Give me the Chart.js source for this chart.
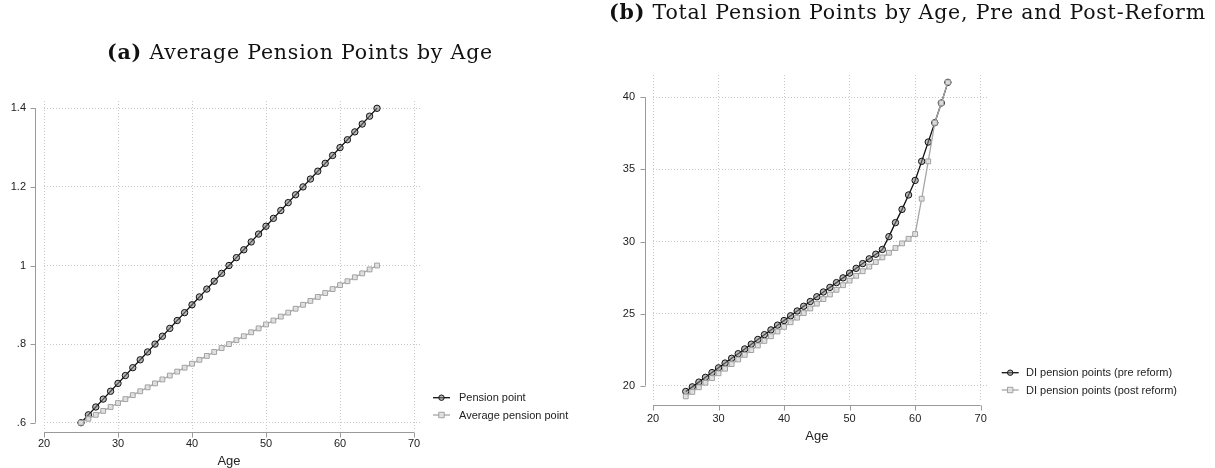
<!DOCTYPE html>
<html>
<head>
<meta charset="utf-8">
<script src="https://cdn.jsdelivr.net/npm/chart.js@4/dist/chart.umd.min.js"></script>
<style>
  html, body { margin: 0; padding: 0; background: #fff; }
  body { width: 1215px; height: 468px; position: relative; overflow: hidden; }
  .panel { position: absolute; top: 0; }
  .ttl { position: absolute; text-align: center; font-family: "DejaVu Serif", "Liberation Serif", serif; font-size: 20.5px; letter-spacing: 0.8px; line-height: 24px; color: #111; white-space: nowrap; }
  .ttl b { font-weight: bold; }
</style>
</head>
<body>
<div class="panel" style="left:0;width:600px;height:468px;"><canvas id="cA" width="600" height="468"></canvas></div>
<div class="panel" style="left:600px;width:615px;height:468px;"><canvas id="cB" width="615" height="468"></canvas></div>
<div class="ttl" id="tA" style="left:0;width:600px;top:40px;"><b>(a)</b> Average Pension Points by Age</div>
<div class="ttl" id="tB" style="left:600px;width:615px;top:0px;"><b>(b)</b> Total Pension Points by Age, Pre and Post-Reform</div>
<script>
// ---------- DATA ----------
const ages = [25,26,27,28,29,30,31,32,33,34,35,36,37,38,39,40,41,42,43,44,45,46,47,48,49,50,51,52,53,54,55,56,57,58,59,60,61,62,63,64,65];

const pensionPoint = [0.60,0.62,0.64,0.66,0.68,0.70,0.72,0.74,0.76,0.78,0.80,0.82,0.84,0.86,0.88,0.90,0.92,0.94,0.96,0.98,1.00,1.02,1.04,1.06,1.08,1.10,1.12,1.14,1.16,1.18,1.20,1.22,1.24,1.26,1.28,1.30,1.32,1.34,1.36,1.38,1.40];
const avgPensionPoint = [0.60,0.61,0.62,0.63,0.64,0.65,0.66,0.67,0.68,0.69,0.70,0.71,0.72,0.73,0.74,0.75,0.76,0.77,0.78,0.79,0.80,0.81,0.82,0.83,0.84,0.85,0.86,0.87,0.88,0.89,0.90,0.91,0.92,0.93,0.94,0.95,0.96,0.97,0.98,0.99,1.00];

const diPreReform = [19.60,19.92,20.25,20.58,20.91,21.24,21.57,21.90,22.22,22.55,22.88,23.21,23.54,23.87,24.20,24.52,24.85,25.18,25.51,25.84,26.17,26.50,26.82,27.15,27.48,27.81,28.14,28.47,28.80,29.12,29.45,30.34,31.31,32.23,33.23,34.24,35.56,36.90,38.24,39.61,41.04];
const diPostReform = [19.26,19.57,19.89,20.21,20.53,20.86,21.18,21.50,21.82,22.14,22.47,22.79,23.11,23.43,23.76,24.08,24.40,24.72,25.04,25.36,25.69,26.01,26.33,26.65,26.97,27.29,27.62,27.94,28.26,28.58,28.90,29.22,29.55,29.87,30.19,30.52,32.97,35.56,38.24,39.61,41.04];

const xTicks = [20,30,40,50,60,70];
const xTickLabels = ['20','30','40','50','60','70'];
const yTicksA = [0.6,0.8,1.0,1.2,1.4];
const yTickLabelsA = ['.6','.8','1','1.2','1.4'];
const yTicksB = [20,25,30,35,40];
const yTickLabelsB = ['20','25','30','35','40'];

const labelsA = ['Pension point','Average pension point'];
const labelsB = ['DI pension points (pre reform)','DI pension points (post reform)'];
const xTitle = 'Age';

// ---------- STYLE ----------
const FONT = '"Liberation Sans", Arial, sans-serif';
const AXIS_COL = '#9a9a9a';
const GRID_COL = '#c8c8c8';
const TXT_COL = '#222';
const BLACK_SER = { line: '#111', marker: '#111', fillc: 'rgba(130,130,130,0.55)', style: 'circle', r: 3.2, order: 1 };
const GRAY_SER  = { line: '#a6a6a6', marker: '#a0a0a0', fillc: 'rgba(225,225,225,0.9)', style: 'rect', r: 3.4, order: 0 };

function pts(xs, ys) { return xs.map((x, i) => ({ x: x, y: ys[i] })); }

function ds(label, data, s) {
  return {
    label: label, data: data, order: s.order,
    borderColor: s.line, borderWidth: 1.3,
    pointStyle: s.style, pointRadius: s.r, pointHoverRadius: s.r,
    pointBorderColor: s.marker, pointBackgroundColor: s.fillc,
    pointBorderWidth: 1, tension: 0, fill: false
  };
}

// custom Stata-like axes + legend plugin
const stataAxes = {
  id: 'stataAxes',
  afterDraw(chart, args, o) {
    const ctx = chart.ctx, ca = chart.chartArea;
    const xs = chart.scales.x, ys = chart.scales.y;
    ctx.save();
    ctx.strokeStyle = AXIS_COL; ctx.lineWidth = 1;
    // y axis
    const ax = Math.round(ca.left - o.yGap) + 0.5;
    const yT = o.yTicks;
    ctx.beginPath();
    ctx.moveTo(ax, ys.getPixelForValue(yT[0]));
    ctx.lineTo(ax, ys.getPixelForValue(yT[yT.length - 1]));
    yT.forEach(v => { const p = Math.round(ys.getPixelForValue(v)) + 0.5; ctx.moveTo(ax - 5, p); ctx.lineTo(ax, p); });
    ctx.stroke();
    // x axis
    const ay = Math.round(ca.bottom + o.xGap) + 0.5;
    const xT = o.xTicks;
    ctx.beginPath();
    ctx.moveTo(xs.getPixelForValue(xT[0]), ay);
    ctx.lineTo(xs.getPixelForValue(xT[xT.length - 1]), ay);
    xT.forEach(v => { const p = Math.round(xs.getPixelForValue(v)) + 0.5; ctx.moveTo(p, ay); ctx.lineTo(p, ay + 5); });
    ctx.stroke();
    // x axis title
    ctx.fillStyle = TXT_COL;
    ctx.font = '13px ' + FONT;
    ctx.textAlign = 'center'; ctx.textBaseline = 'middle';
    const cx = (xs.getPixelForValue(xT[0]) + xs.getPixelForValue(xT[xT.length - 1])) / 2;
    ctx.fillText(xs.options.title.text, cx, o.titleY);
    // legend
    ctx.font = '11px ' + FONT;
    ctx.textAlign = 'left';
    chart.data.datasets.forEach((d, i) => {
      const y = o.legY[i];
      const x0 = o.legX;
      ctx.strokeStyle = d.borderColor; ctx.lineWidth = d.borderWidth;
      ctx.beginPath(); ctx.moveTo(x0, y); ctx.lineTo(x0 + 17, y); ctx.stroke();
      ctx.lineWidth = 1; ctx.strokeStyle = d.pointBorderColor;
      const r = d.pointRadius, mx = x0 + 8.5;
      ctx.beginPath();
      if (d.pointStyle === 'circle') ctx.arc(mx, y, r * 0.85, 0, Math.PI * 2);
      else ctx.rect(mx - r * 0.8, y - r * 0.8, r * 1.6, r * 1.6);
      ctx.fillStyle = d.pointBackgroundColor;
      ctx.fill(); ctx.stroke();
      ctx.fillStyle = TXT_COL;
      ctx.fillText(d.label, o.legTextX, y + 0.5);
    });
    ctx.restore();
  }
};

function makeChart(id, cfg) {
  const tickMap = (vals, labs) => (v) => { const i = vals.findIndex(t => Math.abs(t - v) < 1e-9); return i >= 0 ? labs[i] : ''; };
  return new Chart(document.getElementById(id), {
    type: 'line',
    data: { datasets: cfg.datasets },
    options: {
      responsive: false, animation: false, devicePixelRatio: 1,
      layout: { padding: { top: cfg.area.top, right: cfg.W - cfg.area.right, left: 0, bottom: 0 } },
      plugins: { legend: { display: false }, tooltip: { enabled: false }, stataAxes: cfg.axes },
      scales: {
        x: {
          type: 'linear', min: cfg.xMin, max: cfg.xMax,
          afterFit: s => { s.height = cfg.H - cfg.area.bottom; },
          afterBuildTicks: s => { s.ticks = xTicks.map(v => ({ value: v })); },
          border: { display: false, dash: [1, 2] },
          grid: { color: GRID_COL, lineWidth: 1, drawTicks: false },
          ticks: { padding: cfg.xPad, color: TXT_COL, font: { family: FONT, size: 11 }, maxRotation: 0, callback: tickMap(xTicks, xTickLabels) },
          title: { display: false, text: xTitle }
        },
        y: {
          type: 'linear', min: cfg.yMin, max: cfg.yMax,
          afterFit: s => { s.width = cfg.area.left; },
          afterBuildTicks: s => { s.ticks = cfg.yTicks.map(v => ({ value: v })); },
          border: { display: false, dash: [1, 2] },
          grid: { color: GRID_COL, lineWidth: 1, drawTicks: false },
          ticks: { padding: 18, color: TXT_COL, font: { family: FONT, size: 11 }, callback: tickMap(cfg.yTicks, cfg.yLabels) }
        }
      }
    },
    plugins: [stataAxes]
  });
}

makeChart('cA', {
  W: 600, H: 468,
  area: { left: 44, right: 422, top: 101, bottom: 430 },
  xMin: 20, xMax: 71.08, yMin: 0.5814, yMax: 1.4186,
  yTicks: yTicksA, yLabels: yTickLabelsA, xPad: 7,
  datasets: [ds(labelsA[0], pts(ages, pensionPoint), BLACK_SER), ds(labelsA[1], pts(ages, avgPensionPoint), GRAY_SER)],
  axes: { yGap: 9, xGap: 2, yTicks: yTicksA, xTicks: xTicks, titleY: 461, legX: 433, legTextX: 459, legY: [397.7, 415] }
});

makeChart('cB', {
  W: 615, H: 468,
  area: { left: 53, right: 388, top: 75, bottom: 402 },
  xMin: 20, xMax: 71.12, yMin: 18.87, yMax: 41.55,
  yTicks: yTicksB, yLabels: yTickLabelsB, xPad: 10,
  datasets: [ds(labelsB[0], pts(ages, diPreReform), BLACK_SER), ds(labelsB[1], pts(ages, diPostReform), GRAY_SER)],
  axes: { yGap: 8, xGap: 3, yTicks: yTicksB, xTicks: xTicks, titleY: 436.7, legX: 401.7, legTextX: 426, legY: [372.7, 390] }
});
</script>
</body>
</html>
